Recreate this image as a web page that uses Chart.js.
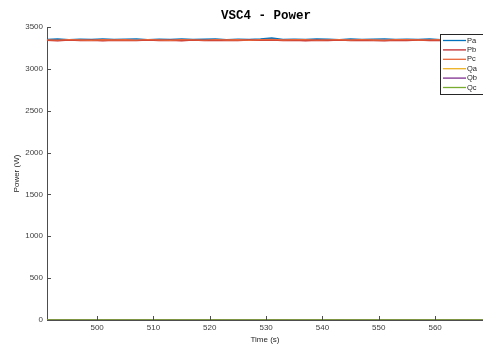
<!DOCTYPE html>
<html>
<head>
<meta charset="utf-8">
<script src="https://cdn.jsdelivr.net/npm/chart.js@4.4.1/dist/chart.umd.min.js"></script>
<style>
  html, body { margin: 0; padding: 0; background: #fff; }
  #wrap { width: 483px; height: 345px; position: relative; }
</style>
</head>
<body>
<div id="wrap"><canvas id="vscChart"></canvas></div>
<script>
// valores
const timeS = [491, 493, 495, 497, 499, 501, 503, 505, 507, 509, 511, 513, 515, 517, 519, 521, 523, 525, 527, 529,
               531, 533, 535, 537, 539, 541, 543, 545, 547, 549, 551, 553, 555, 557, 559, 561, 563, 565, 567, 569];
const pa = [3352, 3356, 3349, 3355, 3351, 3357, 3350, 3354, 3358, 3349, 3355, 3352, 3357, 3350, 3353, 3356, 3349, 3354, 3351, 3356,
            3368, 3352, 3355, 3350, 3357, 3353, 3349, 3356, 3351, 3355, 3358, 3350, 3354, 3352, 3357, 3349, 3355, 3351, 3356, 3353];
const pb = [3340, 3336, 3343, 3338, 3341, 3335, 3342, 3339, 3337, 3344, 3338, 3341, 3336, 3343, 3339, 3337, 3342, 3338, 3344, 3340,
            3345, 3338, 3341, 3336, 3342, 3339, 3343, 3337, 3341, 3338, 3336, 3342, 3339, 3344, 3337, 3341, 3338, 3343, 3339, 3341];
const pc = [3346, 3343, 3349, 3345, 3342, 3348, 3344, 3347, 3343, 3349, 3345, 3342, 3348, 3346, 3343, 3349, 3345, 3347, 3342, 3348,
            3350, 3344, 3347, 3349, 3343, 3346, 3348, 3344, 3349, 3345, 3343, 3347, 3349, 3344, 3346, 3348, 3343, 3347, 3345, 3346];
const qa = [2, 1, 3, 2, 1, 2, 3, 1, 2, 2, 1, 3, 2, 1, 2, 3, 2, 1, 2, 2, 1, 3, 2, 1, 2, 2, 3, 1, 2, 2, 1, 2, 3, 2, 1, 2, 2, 3, 1, 2];
const qb = [1, 2, 1, 1, 2, 1, 2, 1, 1, 2, 1, 1, 2, 1, 2, 1, 1, 2, 1, 1, 2, 1, 1, 2, 1, 2, 1, 1, 2, 1, 1, 2, 1, 1, 2, 1, 2, 1, 1, 2];
const qc = [0, 1, 0, 1, 0, 0, 1, 0, 1, 0, 0, 1, 0, 0, 1, 0, 1, 0, 0, 1, 0, 0, 1, 0, 1, 0, 0, 1, 0, 0, 1, 0, 0, 1, 0, 1, 0, 0, 1, 0];
const seriesNames = ['Pa', 'Pb', 'Pc', 'Qa', 'Qb', 'Qc'];
const xTicks = [500, 510, 520, 530, 540, 550, 560];
const yTicks = [0, 500, 1000, 1500, 2000, 2500, 3000, 3500];

const cores = ['#0072BD', '#C0282F', '#E8673A', '#EDB120', '#7E2F8E', '#77AC30'];
const AXIS = '#4d4d4d';
const FONT = '"Liberation Sans", Arial, sans-serif';

const toPts = arr => arr.map((v, i) => ({ x: timeS[i], y: v }));
const valores = [pa, pb, pc, qa, qb, qc];

// ticks para dentro + título + legenda no canto
const matlabLook = {
    id: 'matlabLook',
    afterDraw(chart) {
        const { ctx, chartArea: ca, scales } = chart;
        ctx.save();
        ctx.strokeStyle = AXIS;
        ctx.lineWidth = 1;
        ctx.beginPath();
        xTicks.forEach(v => {
            const px = Math.round(scales.x.getPixelForValue(v)) + 0.5;
            ctx.moveTo(px, ca.bottom); ctx.lineTo(px, ca.bottom - 4);
        });
        yTicks.forEach(v => {
            const py = Math.round(scales.y.getPixelForValue(v)) + 0.5;
            ctx.moveTo(ca.left, py); ctx.lineTo(ca.left + 4, py);
        });
        ctx.stroke();

        // título
        ctx.fillStyle = '#000';
        ctx.font = 'bold 12.5px "Liberation Mono", "DejaVu Sans Mono", monospace';
        ctx.textAlign = 'center';
        ctx.textBaseline = 'middle';
        ctx.fillText('VSC4 - Power', 266, 16);

        // legenda
        const lx = 440, ly = 34, lw = 44, lh = 60;
        ctx.fillStyle = '#fff';
        ctx.fillRect(lx, ly, lw, lh);
        ctx.strokeStyle = '#262626';
        ctx.strokeRect(lx + 0.5, ly + 0.5, lw, lh);
        ctx.font = '7.5px ' + FONT;
        ctx.textAlign = 'left';
        seriesNames.forEach((nome, i) => {
            const y = ly + 6.5 + i * 9.4;
            ctx.strokeStyle = cores[i];
            ctx.lineWidth = 1.3;
            ctx.beginPath();
            ctx.moveTo(lx + 3, y); ctx.lineTo(lx + 26, y);
            ctx.stroke();
            ctx.fillStyle = '#262626';
            ctx.fillText(nome, lx + 27, y);
        });
        ctx.restore();
    }
};

new Chart(document.getElementById('vscChart').getContext('2d'), {
    type: 'line',
    data: {
        datasets: seriesNames.map((nome, i) => ({
            label: nome,
            data: toPts(valores[i]),
            borderColor: cores[i],
            borderWidth: 1.4,
            pointRadius: 0,
            tension: 0,
            order: i < 3 ? 3 - i : 10 - i
        }))
    },
    options: {
        responsive: true,
        maintainAspectRatio: false,
        animation: false,
        layout: { padding: { top: 27, right: 0, left: 0, bottom: 0 } },
        plugins: {
            legend: { display: false },
            title: { display: false },
            tooltip: { enabled: false }
        },
        scales: {
            x: {
                type: 'linear',
                min: 491.1,
                max: 568.5,
                afterBuildTicks: s => { s.ticks = xTicks.map(v => ({ value: v })); },
                afterFit: s => { s.height = 25; },
                grid: { display: false, drawTicks: false, tickLength: 0 },
                border: { display: true, color: AXIS, width: 1 },
                ticks: { color: '#404040', font: { family: FONT, size: 8 }, padding: 3, maxRotation: 0,
                         callback: v => String(v) },
                title: { display: true, text: 'Time (s)', color: '#262626', font: { family: FONT, size: 8 }, padding: { top: 2, bottom: 0 } }
            },
            y: {
                min: 0,
                max: 3500,
                afterBuildTicks: s => { s.ticks = yTicks.map(v => ({ value: v })); },
                afterFit: s => { s.width = 47; },
                grid: { display: false, drawTicks: false, tickLength: 0 },
                border: { display: true, color: AXIS, width: 1 },
                ticks: { color: '#404040', font: { family: FONT, size: 8 }, padding: 4,
                         callback: v => String(v) },
                title: { display: true, text: 'Power (W)', color: '#262626', font: { family: FONT, size: 8 }, padding: { top: 12, bottom: 0 } }
            }
        }
    },
    plugins: [matlabLook]
});
</script>
</body>
</html>
